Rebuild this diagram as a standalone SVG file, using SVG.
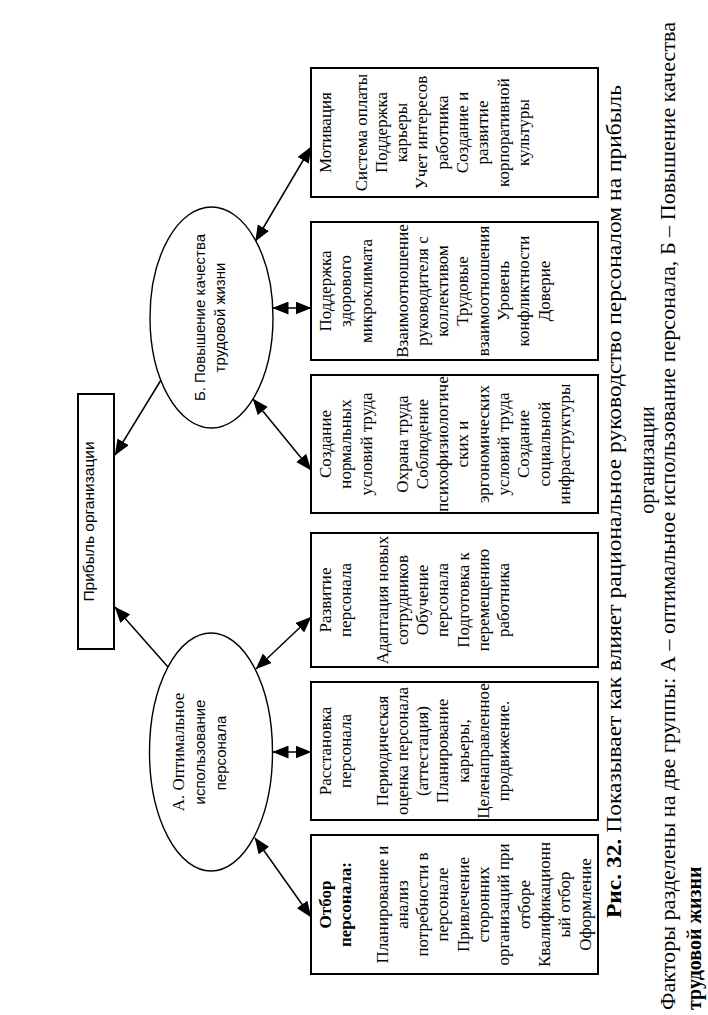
<svg xmlns="http://www.w3.org/2000/svg" width="708" height="1015" viewBox="0 0 708 1015">
<style>
.box{fill:#fff;stroke:#000;stroke-width:2}
.ell{fill:#fff;stroke:#000;stroke-width:1.4}
.ln{fill:none;stroke:#000;stroke-width:1.5}
.t{font-family:"Liberation Serif","Times New Roman",serif;font-size:17px;text-anchor:middle;fill:#000}
.s{font-family:"Liberation Sans",Arial,sans-serif;font-size:15px;text-anchor:middle;fill:#000}
.b{font-weight:bold}
.cap{font-family:"Liberation Serif","Times New Roman",serif;font-size:20px;fill:#000}
</style>
<defs>
<marker id="ah" viewBox="0 0 16 13" refX="15.5" refY="6.5" markerWidth="16" markerHeight="13" markerUnits="userSpaceOnUse" orient="auto-start-reverse">
<path d="M0,0 L16,6.5 L0,13 z" fill="#000"/>
</marker>
</defs>
<rect x="0" y="0" width="708" height="1015" fill="#fff"/>
<g transform="translate(0,1015) rotate(-90)">
<g id="connectors">
<line class="ln" x1="348" y1="168" x2="408" y2="115" marker-end="url(#ah)"/>
<line class="ln" x1="635" y1="161" x2="560" y2="115" marker-end="url(#ah)"/>
<line class="ln" x1="177" y1="255" x2="98" y2="311" marker-start="url(#ah)" marker-end="url(#ah)"/>
<line class="ln" x1="263" y1="273" x2="263" y2="311" marker-start="url(#ah)" marker-end="url(#ah)"/>
<line class="ln" x1="346" y1="256" x2="398" y2="311" marker-start="url(#ah)" marker-end="url(#ah)"/>
<line class="ln" x1="616" y1="253" x2="545" y2="311" marker-start="url(#ah)" marker-end="url(#ah)"/>
<line class="ln" x1="707" y1="273" x2="707" y2="311" marker-start="url(#ah)" marker-end="url(#ah)"/>
<line class="ln" x1="774" y1="255.5" x2="868" y2="311" marker-start="url(#ah)" marker-end="url(#ah)"/>
</g>
<g id="profit">
<rect class="box" x="366" y="78" width="255" height="36"/>
<text class="s" x="493.5" y="94" style="font-size:15.5px">Прибыль организации</text>
</g>
<g id="groupA">
<ellipse class="ell" cx="263" cy="211" rx="119" ry="61.5"/>
<text class="t" x="263" y="184">А. Оптимальное</text>
<text class="s" x="263" y="205">использование</text>
<text class="s" x="262" y="226">персонала</text>
</g>
<g id="groupB">
<ellipse class="ell" cx="697.5" cy="211.5" rx="110.5" ry="61.5"/>
<text class="s" x="697.5" y="205">Б. Повышение качества</text>
<text class="s" x="697.5" y="225">трудовой жизни</text>
</g>
<g id="box1">
<rect class="box" x="41" y="311" width="139" height="287"/>
<text class="t"><tspan class="b" x="110.5" y="330.5">Отбор</tspan><tspan class="b" x="110.5" y="351">персонала:</tspan><tspan x="110.5" y="387.5">Планирование и</tspan><tspan x="110.5" y="407.8">анализ</tspan><tspan x="110.5" y="428.1">потребности в</tspan><tspan x="110.5" y="448.4">персонале</tspan><tspan x="110.5" y="468.7">Привлечение</tspan><tspan x="110.5" y="489">сторонних</tspan><tspan x="110.5" y="509.3">организаций при</tspan><tspan x="110.5" y="529.6">отборе</tspan><tspan x="110.5" y="549.9">Квалификационн</tspan><tspan x="110.5" y="570.2">ый отбор</tspan><tspan x="110.5" y="590.5">Оформление</tspan></text>
</g>
<g id="box2">
<rect class="box" x="195" y="311" width="138" height="287"/>
<text class="t"><tspan x="264" y="330.5">Расстановка</tspan><tspan x="264" y="351">персонала</tspan><tspan x="264" y="387.5">Периодическая</tspan><tspan x="264" y="407.8">оценка персонала</tspan><tspan x="264" y="428.1">(аттестация)</tspan><tspan x="264" y="448.4">Планирование</tspan><tspan x="264" y="468.7">карьеры,</tspan><tspan x="264" y="489">Целенаправленное</tspan><tspan x="264" y="509.3">продвижение.</tspan></text>
</g>
<g id="box3">
<rect class="box" x="348" y="311" width="134" height="287"/>
<text class="t"><tspan x="415" y="330.5">Развитие</tspan><tspan x="415" y="351">персонала</tspan><tspan x="415" y="387.5">Адаптация новых</tspan><tspan x="415" y="407.8">сотрудников</tspan><tspan x="415" y="428.1">Обучение</tspan><tspan x="415" y="448.4">персонала</tspan><tspan x="415" y="468.7">Подготовка к</tspan><tspan x="415" y="489">перемещению</tspan><tspan x="415" y="509.3">работника</tspan></text>
</g>
<g id="box4">
<rect class="box" x="502" y="311" width="138" height="287"/>
<text class="t"><tspan x="571" y="330.5">Создание</tspan><tspan x="571" y="351">нормальных</tspan><tspan x="571" y="371.5">условий труда</tspan><tspan x="571" y="407.5">Охрана труда</tspan><tspan x="571" y="427.8">Соблюдение</tspan><tspan x="571" y="448.1">психофизиологиче</tspan><tspan x="571" y="468.4">ских и</tspan><tspan x="571" y="488.7">эргономических</tspan><tspan x="571" y="509">условий труда</tspan><tspan x="571" y="529.3">Создание</tspan><tspan x="571" y="549.6">социальной</tspan><tspan x="571" y="569.9">инфраструктуры</tspan></text>
</g>
<g id="box5">
<rect class="box" x="655" y="311" width="138" height="287"/>
<text class="t"><tspan x="724" y="330.5">Поддержка</tspan><tspan x="724" y="351">здорового</tspan><tspan x="724" y="371.5">микроклимата</tspan><tspan x="724" y="407.5">Взаимоотношение</tspan><tspan x="724" y="427.8">руководителя с</tspan><tspan x="724" y="448.1">коллективом</tspan><tspan x="724" y="468.4">Трудовые</tspan><tspan x="724" y="488.7">взаимоотношения</tspan><tspan x="724" y="509">Уровень</tspan><tspan x="724" y="529.3">конфликтности</tspan><tspan x="724" y="549.6">Доверие</tspan></text>
</g>
<g id="box6">
<rect class="box" x="818" y="311" width="129" height="287"/>
<text class="t"><tspan x="882.5" y="330.5">Мотивация</tspan><tspan x="882.5" y="366.5">Система оплаты</tspan><tspan x="882.5" y="386.8">Поддержка</tspan><tspan x="882.5" y="407.1">карьеры</tspan><tspan x="882.5" y="427.4">Учет интересов</tspan><tspan x="882.5" y="447.7">работника</tspan><tspan x="882.5" y="468">Создание и</tspan><tspan x="882.5" y="488.3">развитие</tspan><tspan x="882.5" y="508.6">корпоративной</tspan><tspan x="882.5" y="528.9">культуры</tspan></text>
</g>
<g id="caption">
<text class="cap" x="97" y="621" textLength="833" lengthAdjust="spacingAndGlyphs"><tspan class="b">Рис. 32.</tspan> Показывает как влияет рациональное руководство персоналом на прибыль</text>
<text class="cap" x="555" y="654" text-anchor="middle">организации</text>
<text class="cap" x="5" y="675" textLength="988" lengthAdjust="spacingAndGlyphs">Факторы разделены на две группы: А – оптимальное использование персонала, Б – Повышение качества</text>
<text class="cap b" x="5" y="701">трудовой жизни</text>
</g>
</g>
</svg>
